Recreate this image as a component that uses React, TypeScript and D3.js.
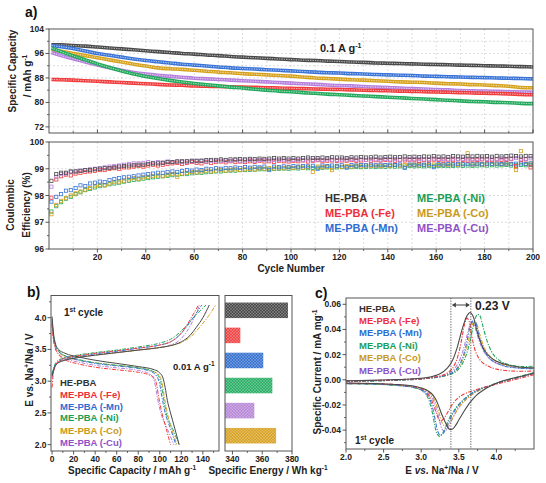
import React from 'react';
import * as d3 from 'd3';

// ---------- shared ----------
const SERIES = ['HE-PBA', 'ME-PBA (-Fe)', 'ME-PBA (-Mn)', 'ME-PBA (-Ni)', 'ME-PBA (-Co)', 'ME-PBA (-Cu)'];
const LINE_COLORS = ['#4a4a4a', '#f03c3c', '#3a74d6', '#22a95c', '#d6a21e', '#b57fdc'];
const TEXT_COLORS = ['#333333', '#ee2f3a', '#2f6cd0', '#1a9e55', '#c9991a', '#8e52c8'];

// ---------- panel a: capacity ----------
const CAP_CYCLES = [1, 5, 10, 15, 20, 25, 30, 35, 40, 45, 50, 55, 60, 65, 70, 75, 80, 85, 90, 95, 100, 105, 110, 115, 120, 125, 130, 135, 140, 145, 150, 155, 160, 165, 170, 175, 180, 185, 190, 195, 200];
const CAP_HE = [98.8, 98.8, 98.6, 98.4, 98.1, 97.8, 97.5, 97.2, 96.9, 96.6, 96.3, 96.0, 95.8, 95.5, 95.3, 95.0, 94.8, 94.6, 94.4, 94.2, 94.0, 93.8, 93.7, 93.5, 93.4, 93.2, 93.1, 92.9, 92.8, 92.7, 92.6, 92.5, 92.4, 92.3, 92.2, 92.1, 92.0, 91.9, 91.8, 91.7, 91.6];
const CAP_FE = [87.5, 87.4, 87.3, 87.1, 86.9, 86.7, 86.5, 86.3, 86.1, 85.9, 85.7, 85.6, 85.4, 85.3, 85.2, 85.1, 85.0, 84.9, 84.8, 84.7, 84.6, 84.5, 84.4, 84.3, 84.2, 84.1, 84.0, 83.9, 83.8, 83.7, 83.6, 83.5, 83.4, 83.3, 83.2, 83.1, 83.0, 82.9, 82.8, 82.6, 82.5];
const CAP_MN = [98.6, 98.2, 97.6, 96.8, 96.0, 95.4, 94.8, 94.2, 93.7, 93.3, 92.9, 92.5, 92.2, 91.9, 91.6, 91.3, 91.1, 90.9, 90.7, 90.5, 90.3, 90.1, 89.9, 89.7, 89.6, 89.4, 89.3, 89.1, 89.0, 88.9, 88.8, 88.6, 88.5, 88.4, 88.3, 88.2, 88.1, 88.0, 87.9, 87.8, 87.7];
const CAP_NI = [97.8, 96.6, 95.2, 93.9, 92.6, 91.4, 90.3, 89.3, 88.5, 87.8, 87.2, 86.7, 86.2, 85.8, 85.4, 85.0, 84.7, 84.3, 84.0, 83.7, 83.5, 83.2, 83.0, 82.7, 82.5, 82.3, 82.1, 81.9, 81.7, 81.5, 81.3, 81.1, 80.9, 80.7, 80.5, 80.3, 80.2, 80.0, 79.9, 79.7, 79.6];
const CAP_CO = [97.3, 96.7, 96.0, 95.3, 94.6, 93.9, 93.2, 92.5, 91.9, 91.3, 91.0, 90.8, 90.5, 90.2, 89.9, 89.7, 89.4, 89.2, 89.0, 88.8, 88.6, 88.3, 88.0, 87.8, 87.6, 87.4, 87.3, 87.1, 86.9, 86.7, 86.6, 86.5, 86.3, 86.1, 86.0, 85.8, 85.7, 85.5, 85.3, 84.9, 84.8];
const CAP_CU = [96.3, 95.3, 94.3, 93.2, 92.2, 91.3, 90.5, 89.8, 89.3, 88.9, 88.5, 88.2, 87.9, 87.7, 87.5, 87.3, 87.1, 86.9, 86.7, 86.5, 86.3, 86.1, 85.9, 85.7, 85.5, 85.4, 85.2, 85.0, 84.9, 84.7, 84.5, 84.4, 84.2, 84.1, 83.9, 83.8, 83.7, 83.6, 83.5, 83.4, 83.3];

// ---------- panel a: coulombic efficiency ----------
const CE_CYCLES = [1, 3, 5, 7, 9, 11, 13, 15, 17, 19, 21, 23, 25, 27, 29, 31, 33, 35, 37, 39, 41, 43, 45, 47, 49, 51, 53, 55, 57, 59, 61, 63, 65, 67, 69, 71, 73, 75, 77, 79, 81, 83, 85, 87, 89, 91, 93, 95, 97, 99, 101, 103, 105, 107, 109, 111, 113, 115, 117, 119, 121, 123, 125, 127, 129, 131, 133, 135, 137, 139, 141, 143, 145, 147, 149, 151, 153, 155, 157, 159, 161, 163, 165, 167, 169, 171, 173, 175, 177, 179, 181, 183, 185, 187, 189, 191, 193, 195, 197, 199];
const CE_HE = [98.55, 98.80, 98.85, 98.85, 98.90, 98.90, 98.92, 98.95, 98.95, 98.98, 99.00, 99.02, 99.03, 99.05, 99.08, 99.10, 99.12, 99.13, 99.15, 99.15, 99.18, 99.20, 99.20, 99.22, 99.25, 99.25, 99.27, 99.28, 99.28, 99.30, 99.30, 99.30, 99.32, 99.33, 99.33, 99.35, 99.33, 99.35, 99.35, 99.36, 99.35, 99.37, 99.36, 99.38, 99.37, 99.38, 99.40, 99.38, 99.40, 99.38, 99.40, 99.38, 99.40, 99.42, 99.40, 99.40, 99.42, 99.40, 99.43, 99.42, 99.42, 99.40, 99.43, 99.42, 99.44, 99.42, 99.43, 99.45, 99.42, 99.44, 99.45, 99.43, 99.44, 99.46, 99.44, 99.45, 99.44, 99.46, 99.45, 99.47, 99.45, 99.46, 99.44, 99.47, 99.46, 99.45, 99.47, 99.46, 99.48, 99.46, 99.47, 99.45, 99.48, 99.46, 99.47, 99.49, 99.47, 99.46, 99.48, 99.47];
const CE_FE = [97.92, 98.60, 98.72, 98.78, 98.75, 98.82, 98.85, 98.88, 98.90, 98.92, 98.95, 98.95, 99.00, 99.02, 99.00, 99.05, 99.05, 99.08, 99.10, 99.08, 99.12, 99.15, 99.12, 99.15, 99.18, 99.20, 99.22, 99.18, 99.22, 99.25, 99.22, 99.20, 99.25, 99.22, 99.25, 99.27, 99.24, 99.28, 99.25, 99.27, 99.25, 99.28, 99.26, 99.30, 99.27, 99.28, 99.26, 99.30, 99.28, 99.27, 99.30, 99.28, 99.31, 99.27, 99.30, 99.32, 99.28, 99.30, 99.31, 99.29, 99.31, 99.30, 99.32, 99.29, 99.31, 99.33, 99.30, 99.32, 99.31, 99.33, 99.32, 99.30, 99.33, 99.31, 99.34, 99.32, 99.30, 99.33, 99.32, 99.34, 99.33, 99.31, 99.34, 99.32, 99.35, 99.33, 99.31, 99.34, 99.33, 99.35, 99.34, 99.32, 99.35, 99.33, 99.34, 99.36, 99.10, 99.32, 99.35, 99.05];
const CE_MN = [97.77, 97.95, 98.05, 98.18, 98.20, 98.28, 98.38, 98.35, 98.45, 98.48, 98.52, 98.50, 98.58, 98.62, 98.65, 98.68, 98.70, 98.72, 98.75, 98.78, 98.80, 98.82, 98.85, 98.85, 98.88, 98.90, 98.88, 98.92, 98.95, 98.93, 98.97, 98.95, 99.00, 98.98, 99.02, 99.00, 99.03, 99.02, 99.05, 99.03, 99.06, 99.04, 99.07, 99.05, 99.08, 98.95, 99.08, 99.06, 99.09, 99.07, 99.10, 99.08, 99.10, 99.09, 99.11, 99.00, 99.12, 99.10, 99.12, 99.11, 99.13, 99.05, 99.14, 99.12, 99.14, 99.13, 99.15, 99.13, 99.15, 99.14, 99.15, 99.14, 99.16, 99.03, 99.16, 99.15, 99.17, 99.15, 99.17, 99.06, 99.17, 99.16, 99.18, 99.16, 99.18, 99.17, 99.18, 99.17, 99.19, 99.17, 99.19, 99.18, 99.19, 99.18, 99.20, 99.18, 99.19, 99.20, 99.18, 99.20];
const CE_NI = [97.40, 97.60, 97.75, 97.88, 97.95, 98.05, 98.12, 98.20, 98.25, 98.30, 98.35, 98.38, 98.42, 98.45, 98.48, 98.52, 98.55, 98.58, 98.60, 98.63, 98.65, 98.68, 98.70, 98.72, 98.73, 98.76, 98.78, 98.80, 98.80, 98.83, 98.85, 98.85, 98.87, 98.88, 98.90, 98.90, 98.92, 98.93, 98.93, 98.95, 98.95, 98.96, 98.97, 98.98, 98.98, 99.00, 98.99, 99.00, 99.01, 99.00, 99.02, 99.01, 99.03, 99.02, 99.03, 99.04, 99.03, 99.05, 99.04, 99.05, 99.06, 99.05, 99.06, 99.07, 99.06, 99.07, 99.08, 99.07, 99.08, 99.07, 99.09, 99.08, 99.09, 99.08, 99.10, 99.09, 99.10, 99.09, 99.10, 99.11, 99.10, 99.11, 99.10, 99.11, 99.12, 99.11, 99.12, 99.11, 99.12, 99.13, 99.12, 99.13, 99.12, 99.13, 99.14, 99.12, 99.13, 99.14, 99.13, 99.14];
const CE_CO = [97.30, 97.65, 97.80, 97.90, 98.00, 98.08, 98.15, 98.22, 98.28, 98.35, 98.40, 98.38, 98.45, 98.50, 98.52, 98.55, 98.60, 98.65, 98.62, 98.68, 98.70, 98.73, 98.75, 98.72, 98.78, 98.80, 98.70, 98.82, 98.85, 98.88, 98.86, 98.90, 98.92, 98.90, 98.93, 98.95, 98.93, 98.96, 98.98, 98.95, 98.98, 99.00, 98.97, 99.02, 99.00, 99.03, 99.01, 99.04, 99.02, 99.05, 99.03, 99.06, 99.04, 99.07, 98.88, 99.08, 99.06, 99.08, 98.95, 99.09, 99.07, 99.10, 99.08, 99.11, 99.09, 99.12, 99.10, 99.12, 99.11, 99.13, 99.11, 99.14, 99.12, 99.14, 99.13, 99.15, 99.13, 99.15, 99.14, 99.16, 99.14, 99.16, 99.15, 99.17, 99.15, 99.17, 99.58, 99.16, 99.18, 99.16, 99.18, 99.17, 99.19, 99.17, 99.19, 99.18, 98.95, 99.66, 99.18, 99.19];
const CE_CU = [98.33, 98.70, 98.80, 98.82, 98.88, 98.90, 98.93, 98.95, 98.98, 99.00, 99.02, 99.05, 99.08, 99.10, 99.12, 99.15, 99.18, 99.20, 99.20, 99.22, 99.25, 99.22, 99.25, 99.23, 99.27, 99.25, 99.28, 99.25, 99.27, 99.28, 99.28, 99.30, 99.27, 99.30, 99.28, 99.30, 99.31, 99.29, 99.32, 99.30, 99.31, 99.33, 99.30, 99.32, 99.33, 99.31, 99.33, 99.32, 99.34, 99.32, 99.33, 99.34, 99.32, 99.35, 99.33, 99.34, 99.33, 99.35, 99.34, 99.33, 99.35, 99.34, 99.36, 99.34, 99.35, 99.33, 99.36, 99.35, 99.34, 99.36, 99.35, 99.36, 99.34, 99.37, 99.35, 99.36, 99.37, 99.35, 99.36, 99.38, 99.36, 99.37, 99.35, 99.38, 99.36, 99.37, 99.38, 99.36, 99.37, 99.38, 99.37, 99.38, 99.36, 99.39, 99.37, 99.38, 99.40, 99.38, 99.37, 99.39];

// ---------- panel b: 1st cycle charge / discharge (capacity, voltage) ----------
const CHG_HE = [[0, 3.08], [2, 3.2], [5, 3.28], [10, 3.32], [20, 3.36], [40, 3.41], [60, 3.45], [80, 3.49], [100, 3.53], [110, 3.56], [120, 3.62], [128, 3.72], [134, 3.85], [140, 4.0], [146, 4.2]];
const CHG_FE = [[0, 2.9], [1, 3.1], [3, 3.24], [6, 3.31], [10, 3.35], [20, 3.39], [40, 3.44], [60, 3.48], [80, 3.52], [100, 3.57], [110, 3.62], [118, 3.72], [125, 3.88], [131, 4.05], [136, 4.2]];
const CHG_MN = [[0, 3.1], [2, 3.22], [5, 3.3], [10, 3.34], [20, 3.38], [40, 3.43], [60, 3.47], [80, 3.52], [100, 3.57], [110, 3.62], [118, 3.72], [126, 3.88], [133, 4.05], [139, 4.2]];
const CHG_NI = [[0, 3.12], [2, 3.24], [5, 3.32], [10, 3.36], [20, 3.4], [40, 3.45], [60, 3.49], [80, 3.54], [100, 3.6], [110, 3.66], [118, 3.76], [126, 3.9], [134, 4.05], [143, 4.2]];
const CHG_CO = [[0, 3.1], [2, 3.22], [5, 3.3], [10, 3.33], [20, 3.37], [40, 3.41], [60, 3.45], [80, 3.49], [100, 3.53], [110, 3.56], [120, 3.61], [130, 3.72], [138, 3.87], [145, 4.02], [152, 4.2]];
const CHG_CU = [[0, 3.05], [2, 3.2], [5, 3.28], [10, 3.32], [20, 3.36], [40, 3.41], [60, 3.45], [80, 3.49], [100, 3.53], [110, 3.57], [118, 3.64], [125, 3.78], [131, 3.96], [137, 4.2]];
const DIS_HE = [[0, 4.02], [1, 3.8], [3, 3.6], [6, 3.5], [12, 3.44], [25, 3.38], [40, 3.33], [60, 3.28], [80, 3.23], [95, 3.18], [100, 3.13], [103, 3.05], [105, 2.9], [107, 2.7], [110, 2.5], [114, 2.25], [118, 2.0]];
const DIS_FE = [[0, 3.9], [1, 3.7], [3, 3.52], [6, 3.42], [12, 3.34], [25, 3.27], [40, 3.22], [60, 3.18], [80, 3.14], [90, 3.1], [95, 3.05], [97, 2.95], [99, 2.75], [102, 2.5], [106, 2.25], [110, 2.0]];
const DIS_MN = [[0, 3.95], [1, 3.75], [3, 3.57], [6, 3.47], [12, 3.4], [25, 3.33], [40, 3.28], [60, 3.24], [80, 3.2], [92, 3.15], [97, 3.08], [100, 2.95], [102, 2.75], [105, 2.5], [110, 2.25], [115, 2.0]];
const DIS_NI = [[0, 3.98], [1, 3.78], [3, 3.58], [6, 3.48], [12, 3.4], [25, 3.34], [40, 3.29], [60, 3.25], [80, 3.21], [93, 3.16], [98, 3.1], [101, 2.98], [103, 2.78], [106, 2.5], [112, 2.25], [118, 2.0]];
const DIS_CO = [[0, 3.92], [1, 3.72], [3, 3.55], [6, 3.46], [12, 3.39], [25, 3.33], [40, 3.29], [60, 3.25], [80, 3.21], [93, 3.16], [99, 3.1], [102, 2.98], [104, 2.78], [107, 2.5], [111, 2.25], [116, 2.0]];
const DIS_CU = [[0, 3.9], [1, 3.7], [3, 3.52], [6, 3.43], [12, 3.36], [25, 3.3], [40, 3.25], [60, 3.21], [80, 3.17], [90, 3.12], [94, 3.05], [96, 2.92], [98, 2.72], [101, 2.5], [107, 2.25], [113, 2.0]];

// ---------- panel b: specific energy bars ----------
const ENERGY_LABELS = ['HE-PBA', 'ME-PBA (-Fe)', 'ME-PBA (-Mn)', 'ME-PBA (-Ni)', 'ME-PBA (-Cu)', 'ME-PBA (-Co)'];
const ENERGY_VALUES = [377.3, 345.3, 360.7, 366.8, 354.7, 369.3];
const ENERGY_COLORS = ['#4d4d4d', '#f04848', '#3a74d0', '#2eb068', '#b98ad8', '#d8a326'];

// ---------- panel c: CV (voltage, current) ----------
const CV_HE_A = [[2.0, -0.0008], [2.3, -0.0005], [2.6, 0.0], [2.9, 0.0008], [3.1, 0.002], [3.25, 0.0048], [3.35, 0.0095], [3.42, 0.016], [3.48, 0.026], [3.53, 0.037], [3.57, 0.045], [3.61, 0.051], [3.65, 0.0535], [3.69, 0.0505], [3.72, 0.044], [3.75, 0.037], [3.79, 0.030], [3.84, 0.0235], [3.92, 0.018], [4.0, 0.0148], [4.15, 0.0118], [4.3, 0.0102], [4.5, 0.0095]];
const CV_HE_C = [[4.5, 0.0055], [4.35, 0.003], [4.2, 0.001], [4.05, -0.0015], [3.92, -0.005], [3.82, -0.0085], [3.74, -0.012], [3.65, -0.018], [3.56, -0.026], [3.5, -0.032], [3.46, -0.036], [3.42, -0.039], [3.39, -0.0394], [3.36, -0.0385], [3.33, -0.035], [3.3, -0.031], [3.27, -0.027], [3.23, -0.0205], [3.19, -0.015], [3.13, -0.0105], [3.05, -0.0075], [2.94, -0.0055], [2.7, -0.0038], [2.4, -0.003], [2.0, -0.0025]];
const CV_FE_A = [[2.0, -0.001], [2.4, -0.0005], [2.8, 0.0003], [3.1, 0.0015], [3.3, 0.004], [3.4, 0.008], [3.46, 0.014], [3.51, 0.024], [3.55, 0.036], [3.58, 0.045], [3.61, 0.049], [3.64, 0.046], [3.67, 0.036], [3.7, 0.027], [3.74, 0.020], [3.8, 0.0145], [3.9, 0.0105], [4.0, 0.0085], [4.2, 0.007], [4.4, 0.0068], [4.5, 0.007]];
const CV_FE_C = [[4.5, 0.004], [4.3, 0.001], [4.1, -0.002], [3.9, -0.005], [3.75, -0.0075], [3.6, -0.0105], [3.5, -0.014], [3.42, -0.019], [3.36, -0.025], [3.31, -0.030], [3.27, -0.0325], [3.24, -0.032], [3.21, -0.028], [3.17, -0.021], [3.12, -0.014], [3.05, -0.009], [2.95, -0.006], [2.7, -0.004], [2.4, -0.003], [2.0, -0.0025]];
const CV_MN_A = [[2.0, -0.0012], [2.4, -0.0008], [2.8, 0.0], [3.1, 0.0012], [3.3, 0.003], [3.42, 0.006], [3.5, 0.011], [3.56, 0.019], [3.61, 0.031], [3.65, 0.042], [3.69, 0.047], [3.72, 0.046], [3.75, 0.040], [3.78, 0.032], [3.82, 0.025], [3.88, 0.019], [3.96, 0.0145], [4.1, 0.011], [4.3, 0.0092], [4.5, 0.0088]];
const CV_MN_C = [[4.5, 0.005], [4.3, 0.002], [4.1, -0.001], [3.95, -0.004], [3.8, -0.007], [3.68, -0.0105], [3.58, -0.015], [3.5, -0.02], [3.43, -0.026], [3.37, -0.033], [3.32, -0.040], [3.28, -0.0435], [3.25, -0.044], [3.22, -0.041], [3.19, -0.033], [3.15, -0.022], [3.1, -0.0135], [3.02, -0.0085], [2.9, -0.006], [2.6, -0.004], [2.3, -0.0033], [2.0, -0.003]];
const CV_NI_A = [[2.0, -0.0012], [2.4, -0.0008], [2.8, 0.0], [3.1, 0.0012], [3.3, 0.003], [3.45, 0.006], [3.53, 0.011], [3.6, 0.02], [3.65, 0.031], [3.69, 0.042], [3.72, 0.049], [3.75, 0.052], [3.78, 0.051], [3.81, 0.045], [3.85, 0.036], [3.9, 0.027], [3.96, 0.02], [4.05, 0.015], [4.2, 0.0115], [4.35, 0.0105], [4.5, 0.0108]];
const CV_NI_C = [[4.5, 0.0055], [4.3, 0.0025], [4.1, -0.0008], [3.95, -0.0038], [3.8, -0.007], [3.68, -0.0105], [3.58, -0.015], [3.5, -0.0195], [3.43, -0.025], [3.37, -0.031], [3.32, -0.038], [3.28, -0.043], [3.245, -0.045], [3.21, -0.043], [3.18, -0.036], [3.14, -0.024], [3.09, -0.0145], [3.02, -0.009], [2.9, -0.0062], [2.6, -0.0042], [2.3, -0.0034], [2.0, -0.003]];
const CV_CO_A = [[2.0, -0.0012], [2.4, -0.0008], [2.8, 0.0], [3.1, 0.0012], [3.3, 0.003], [3.43, 0.006], [3.51, 0.011], [3.57, 0.019], [3.62, 0.029], [3.66, 0.039], [3.69, 0.045], [3.715, 0.046], [3.74, 0.044], [3.77, 0.038], [3.81, 0.030], [3.86, 0.023], [3.93, 0.0175], [4.02, 0.0138], [4.2, 0.0105], [4.35, 0.0095], [4.5, 0.0092]];
const CV_CO_C = [[4.5, 0.005], [4.3, 0.002], [4.1, -0.0012], [3.95, -0.0042], [3.8, -0.0075], [3.68, -0.0115], [3.58, -0.0165], [3.5, -0.022], [3.44, -0.028], [3.39, -0.033], [3.35, -0.0362], [3.32, -0.037], [3.29, -0.0355], [3.26, -0.031], [3.22, -0.023], [3.17, -0.015], [3.1, -0.0095], [3.0, -0.0065], [2.8, -0.0048], [2.5, -0.0036], [2.0, -0.003]];
const CV_CU_A = [[2.0, -0.001], [2.4, -0.0006], [2.8, 0.0002], [3.1, 0.0014], [3.3, 0.0035], [3.42, 0.0075], [3.49, 0.013], [3.55, 0.022], [3.6, 0.033], [3.64, 0.042], [3.67, 0.046], [3.7, 0.0445], [3.73, 0.039], [3.77, 0.031], [3.82, 0.024], [3.88, 0.0185], [3.96, 0.0145], [4.1, 0.0112], [4.3, 0.0095], [4.5, 0.009]];
const CV_CU_C = [[4.5, 0.005], [4.3, 0.002], [4.1, -0.0012], [3.95, -0.0042], [3.8, -0.0075], [3.68, -0.0115], [3.58, -0.0165], [3.5, -0.022], [3.44, -0.028], [3.39, -0.034], [3.35, -0.0385], [3.31, -0.041], [3.28, -0.0395], [3.25, -0.034], [3.21, -0.025], [3.16, -0.016], [3.1, -0.0105], [3.0, -0.007], [2.8, -0.005], [2.5, -0.0037], [2.0, -0.003]];
const CV_GAP_V = [3.395, 3.66];

const CAPS = [CAP_HE, CAP_FE, CAP_MN, CAP_NI, CAP_CO, CAP_CU];
const CES = [CE_HE, CE_FE, CE_MN, CE_NI, CE_CO, CE_CU];
const CHGS = [CHG_HE, CHG_FE, CHG_MN, CHG_NI, CHG_CO, CHG_CU];
const DISS = [DIS_HE, DIS_FE, DIS_MN, DIS_NI, DIS_CO, DIS_CU];
const CVA = [CV_HE_A, CV_FE_A, CV_MN_A, CV_NI_A, CV_CO_A, CV_CU_A];
const CVC = [CV_HE_C, CV_FE_C, CV_MN_C, CV_NI_C, CV_CO_C, CV_CU_C];

const FONT = "'Liberation Sans', Arial, Helvetica, sans-serif";
const AX = '#444';
const DASHDOT = '4 1.4 1.2 1.4';

type Sc = d3.ScaleLinear<number, number>;

function XTicks({ x, y0, values, minor, fmt, labels = true, dir = 1 }: { x: Sc; y0: number; values: number[]; minor: number[]; fmt: (v: number) => string; labels?: boolean; dir?: number }) {
  return (
    <g>
      {minor.map((v) => <line key={'m' + v} x1={x(v)} x2={x(v)} y1={y0} y2={y0 + 2 * dir} stroke={AX} strokeWidth={0.8} />)}
      {values.map((v) => (
        <g key={v}>
          <line x1={x(v)} x2={x(v)} y1={y0} y2={y0 + 3.5 * dir} stroke={AX} strokeWidth={0.9} />
          {labels && <text x={x(v)} y={y0 + 11} textAnchor="middle" fontSize={8.5} fontWeight="bold" fill="#222">{fmt(v)}</text>}
        </g>
      ))}
    </g>
  );
}

function YTicks({ y, x0, values, minor, fmt, gap = 5 }: { y: Sc; x0: number; values: number[]; minor: number[]; fmt: (v: number) => string; gap?: number }) {
  return (
    <g>
      {minor.map((v) => <line key={'m' + v} x1={x0} x2={x0 - 2} y1={y(v)} y2={y(v)} stroke={AX} strokeWidth={0.8} />)}
      {values.map((v) => (
        <g key={v}>
          <line x1={x0} x2={x0 - 3.5} y1={y(v)} y2={y(v)} stroke={AX} strokeWidth={0.9} />
          <text x={x0 - gap} y={y(v) + 3} textAnchor="end" fontSize={8.5} fontWeight="bold" fill="#222">{fmt(v)}</text>
        </g>
      ))}
    </g>
  );
}

// superscript: raised small text, then the rest of the text back on the baseline
const Sup = ({ t, rest, s = 6.5, up = 4 }: { t: string; rest?: string; s?: number; up?: number }) => (
  <>
    <tspan dy={-up} fontSize={s}>{t}</tspan>
    {rest ? <tspan dy={up}>{rest}</tspan> : null}
  </>
);

export default function App() {
  // ---- panel a scales
  const ax = d3.scaleLinear().domain([0, 200]).range([49, 533]);
  const ayCap = d3.scaleLinear().domain([70, 104]).range([133, 29]);
  const ayCE = d3.scaleLinear().domain([96, 100]).range([249, 142]);
  // ---- panel b scales
  const bx = d3.scaleLinear().domain([-1, 155]).range([51, 219]);
  const by = d3.scaleLinear().domain([1.9, 4.35]).range([451, 295.5]);
  const ex = d3.scaleLinear().domain([335, 380]).range([225, 292]);
  const ey = d3.scaleBand<string>().domain(ENERGY_LABELS).range([295, 451]).paddingInner(0.38).paddingOuter(0.3);
  // ---- panel c scales
  const cx = d3.scaleLinear().domain([2.0, 4.5]).range([346, 534]);
  const cy = d3.scaleLinear().domain([-0.055, 0.065]).range([449, 298]);

  const capLine = d3.line<number>().x((_, i) => ax(CAP_CYCLES[i])).y((d) => ayCap(d)).curve(d3.curveMonotoneX);
  const bLine = d3.line<number[]>().x((d) => bx(d[0])).y((d) => by(d[1])).curve(d3.curveMonotoneX);
  const cLine = d3.line<number[]>().x((d) => cx(d[0])).y((d) => cy(d[1])).curve(d3.curveCatmullRom.alpha(0.5));

  const [aL, aR] = ax.range();
  const grid10 = d3.range(10, 200, 10);
  const capGridY = [72, 76, 80, 84, 88, 92, 96, 100];
  const ceGridY = [97, 98, 99];

  const drawOrderCap = [0, 2, 4, 5, 1, 3];
  const drawOrderCE = [3, 4, 2, 1, 5, 0];

  return (
    <svg width={546} height={483} viewBox="0 0 546 483" style={{ position: 'absolute', left: 0, top: 0, background: '#fff' }} fontFamily={FONT}>
      <defs>
        <clipPath id="clipB"><rect x={51} y={295.5} width={168} height={155.5} /></clipPath>
        <clipPath id="clipC"><rect x={346} y={298} width={188} height={151} /></clipPath>
        {ENERGY_COLORS.map((c, i) => (
          <pattern key={i} id={'hatch' + i} width={3} height={3} patternUnits="userSpaceOnUse">
            <rect width={3} height={3} fill={c} />
            <path d="M0,0L3,3M3,0L0,3" stroke="#ffffff" strokeOpacity={0.28} strokeWidth={0.7} />
          </pattern>
        ))}
      </defs>

      {/* ================= panel a ================= */}
      <text x={25} y={17} fontSize={14} fontWeight="bold" fill="#111">a)</text>

      {/* top: capacity */}
      <g>
        {grid10.map((v) => <line key={v} x1={ax(v)} x2={ax(v)} y1={29} y2={133} stroke="#c8c8c8" strokeWidth={0.6} strokeDasharray="2 2" />)}
        {capGridY.map((v) => <line key={v} x1={aL} x2={aR} y1={ayCap(v)} y2={ayCap(v)} stroke="#c8c8c8" strokeWidth={0.6} strokeDasharray="2 2" />)}
        {drawOrderCap.map((i) => (
          <g key={i}>
            <path d={capLine(CAPS[i]) || ''} fill="none" stroke={LINE_COLORS[i]} strokeWidth={3.6} />
            <path d={capLine(CAPS[i]) || ''} fill="none" stroke="#ffffff" strokeOpacity={0.6} strokeWidth={1.1} strokeDasharray="1.3 1.1" />
          </g>
        ))}
        <rect x={aL} y={29} width={aR - aL} height={104} fill="none" stroke="#555" strokeWidth={1} />
        <YTicks y={ayCap} x0={aL} values={[72, 80, 88, 96, 104]} minor={[76, 84, 92, 100]} fmt={(v) => String(v)} />
        <XTicks x={ax} y0={133} values={d3.range(20, 201, 20)} minor={d3.range(10, 200, 20)} fmt={(v) => String(v)} labels={false} dir={-1} />
        <text x={320} y={52} fontSize={11} fontWeight="bold" fill="#222">0.1 A g<Sup t="-1" s={7} /></text>
        <text transform="translate(16,71) rotate(-90)" textAnchor="middle" fontSize={10} fontWeight="bold" fill="#222">Specific Capacity</text>
        <text transform="translate(31,76) rotate(-90)" textAnchor="middle" fontSize={10} fontWeight="bold" fill="#222">/ mAh g<Sup t="-1" s={6.5} /></text>
      </g>

      {/* bottom: CE */}
      <g>
        {grid10.map((v) => <line key={v} x1={ax(v)} x2={ax(v)} y1={142} y2={249} stroke="#c8c8c8" strokeWidth={0.6} strokeDasharray="2 2" />)}
        {ceGridY.map((v) => <line key={v} x1={aL} x2={aR} y1={ayCE(v)} y2={ayCE(v)} stroke="#c8c8c8" strokeWidth={0.6} strokeDasharray="2 2" />)}
        {drawOrderCE.map((i) => (
          <g key={i}>
            {CES[i].map((v, k) => (
              <rect key={k} x={ax(CE_CYCLES[k]) - 1.6} y={ayCE(v) - 1.6} width={3.2} height={3.2} fill="none" stroke={LINE_COLORS[i]} strokeWidth={0.8} />
            ))}
          </g>
        ))}
        <rect x={aL} y={142} width={aR - aL} height={107} fill="none" stroke="#555" strokeWidth={1} />
        <YTicks y={ayCE} x0={aL} values={[96, 97, 98, 99, 100]} minor={[96.5, 97.5, 98.5, 99.5]} fmt={(v) => String(v)} />
        <XTicks x={ax} y0={249} values={d3.range(20, 201, 20)} minor={d3.range(10, 200, 20)} fmt={(v) => String(v)} />
        <text x={291} y={272} textAnchor="middle" fontSize={10} fontWeight="bold" fill="#222">Cycle Number</text>
        <text transform="translate(14,205) rotate(-90)" textAnchor="middle" fontSize={10} fontWeight="bold" fill="#222">Coulombic</text>
        <text transform="translate(30,205) rotate(-90)" textAnchor="middle" fontSize={10} fontWeight="bold" fill="#222">Efficiency (%)</text>
        {SERIES.map((s, i) => (
          <text key={s} x={i < 3 ? 325 : 417} y={202 + (i % 3) * 15} fontSize={11} fontWeight="bold" fill={TEXT_COLORS[i]}>{s}</text>
        ))}
      </g>

      {/* ================= panel b ================= */}
      <text x={27} y={297} fontSize={14} fontWeight="bold" fill="#111">b)</text>
      <g>
        <g clipPath="url(#clipB)">
          {[5, 4, 3, 2, 1, 0].map((i) => (
            <g key={i}>
              <path d={bLine(CHGS[i]) || ''} fill="none" stroke={LINE_COLORS[i]} strokeWidth={1} strokeDasharray={i === 0 ? undefined : DASHDOT} />
              <path d={bLine(DISS[i]) || ''} fill="none" stroke={LINE_COLORS[i]} strokeWidth={1} strokeDasharray={i === 0 ? undefined : DASHDOT} />
            </g>
          ))}
        </g>
        <rect x={51} y={295.5} width={168} height={155.5} fill="none" stroke="#555" strokeWidth={1} />
        <YTicks y={by} x0={51} gap={4.5} values={[2.0, 2.5, 3.0, 3.5, 4.0]} minor={[2.25, 2.75, 3.25, 3.75, 4.25]} fmt={(v) => v.toFixed(1)} />
        <XTicks x={bx} y0={451} values={d3.range(0, 141, 20)} minor={d3.range(10, 151, 20)} fmt={(v) => String(v)} />
        <text x={64} y={316} fontSize={10} fontWeight="bold" fill="#222">1<Sup t="st" rest=" cycle" s={6.5} /></text>
        <text x={173} y={370} fontSize={9.5} fontWeight="bold" fill="#222">0.01 A g<Sup t="-1" s={6.5} /></text>
        {SERIES.map((s, i) => (
          <text key={s} x={60} y={[385.5, 397.5, 410, 421, 433.5, 445.5][i]} fontSize={9.5} fontWeight="bold" fill={TEXT_COLORS[i]}>{s}</text>
        ))}
        <text x={132} y={474} textAnchor="middle" fontSize={10} fontWeight="bold" fill="#222">Specific Capacity / mAh g<Sup t="-1" s={6.5} /></text>
        <text transform="translate(33,370) rotate(-90)" textAnchor="middle" fontSize={10} fontWeight="bold" fill="#222">E vs. Na<Sup t="+" rest="/Na / V" s={6.5} /></text>
      </g>

      {/* bars */}
      <g>
        {ENERGY_LABELS.map((l, i) => (
          <rect key={l} x={ex(335)} y={ey(l)!} width={ex(ENERGY_VALUES[i]) - ex(335)} height={ey.bandwidth()} fill={`url(#hatch${i})`} />
        ))}
        <rect x={225} y={295.5} width={67} height={155.5} fill="none" stroke="#555" strokeWidth={1} />
        <XTicks x={ex} y0={451} values={[340, 360, 380]} minor={[350, 370]} fmt={(v) => String(v)} />
        <text x={268} y={474} textAnchor="middle" fontSize={10} fontWeight="bold" fill="#222">Specific Energy / Wh kg<Sup t="-1" s={6.5} /></text>
      </g>

      {/* ================= panel c ================= */}
      <text x={315} y={298} fontSize={14} fontWeight="bold" fill="#111">c)</text>
      <g>
        <g clipPath="url(#clipC)">
          {[5, 4, 3, 2, 1, 0].map((i) => (
            <g key={i}>
              <path d={cLine(CVA[i]) || ''} fill="none" stroke={LINE_COLORS[i]} strokeWidth={1.1} strokeDasharray={i === 0 ? undefined : DASHDOT} />
              <path d={cLine(CVC[i]) || ''} fill="none" stroke={LINE_COLORS[i]} strokeWidth={1.1} strokeDasharray={i === 0 ? undefined : DASHDOT} />
            </g>
          ))}
        </g>
        {CV_GAP_V.map((v) => <line key={v} x1={cx(v)} x2={cx(v)} y1={298} y2={449} stroke="#555" strokeWidth={0.9} strokeDasharray="1.3 1.3" />)}
        <g stroke="#444" strokeWidth={1} fill="#444">
          <line x1={cx(CV_GAP_V[0]) + 2} x2={cx(CV_GAP_V[1]) - 2} y1={305} y2={305} />
          <path d={`M${cx(CV_GAP_V[0]) + 1},305 l4,-2.5 v5 z`} stroke="none" />
          <path d={`M${cx(CV_GAP_V[1]) - 1},305 l-4,-2.5 v5 z`} stroke="none" />
        </g>
        <text x={475} y={310} fontSize={12} fontWeight="bold" fill="#222">0.23 V</text>
        <rect x={346} y={298} width={188} height={151} fill="none" stroke="#555" strokeWidth={1} />
        <YTicks y={cy} x0={346} values={[-0.04, -0.02, 0, 0.02, 0.04, 0.06]} minor={[-0.05, -0.03, -0.01, 0.01, 0.03, 0.05]} fmt={(v) => v.toFixed(2)} />
        <XTicks x={cx} y0={449} values={[2.0, 2.5, 3.0, 3.5, 4.0]} minor={[2.25, 2.75, 3.25, 3.75, 4.25]} fmt={(v) => v.toFixed(1)} />
        {SERIES.map((s, i) => (
          <text key={s} x={359} y={311.5 + i * 12.4} fontSize={9.5} fontWeight="bold" fill={TEXT_COLORS[i]}>{s}</text>
        ))}
        <text x={355} y={444} fontSize={10} fontWeight="bold" fill="#222">1<Sup t="st" rest=" cycle" s={6.5} /></text>
        <text x={442} y={474} textAnchor="middle" fontSize={10} fontWeight="bold" fill="#222">E <tspan fontStyle="italic">vs.</tspan> Na<Sup t="+" rest="/Na / V" s={6.5} /></text>
        <text transform="translate(321,372) rotate(-90)" textAnchor="middle" fontSize={10} fontWeight="bold" fill="#222">Specific Current / mA mg<Sup t="-1" s={6.5} /></text>
      </g>
    </svg>
  );
}
